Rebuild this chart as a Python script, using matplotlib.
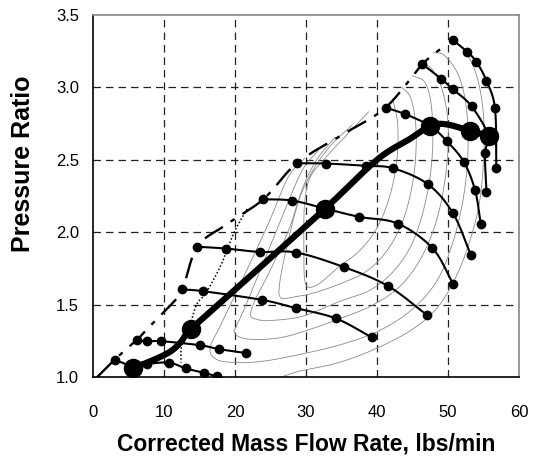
import matplotlib
matplotlib.use("Agg")
import matplotlib.pyplot as plt
import numpy as np

plt.rcParams['font.family'] = ['Liberation Sans', 'DejaVu Sans']

# ---- data ----
x_ticks = [0, 10, 20, 30, 40, 50, 60]
y_ticks = [1.0, 1.5, 2.0, 2.5, 3.0, 3.5]

speed_lines = [
    ([3.05, 5.7, 7.6, 10.7, 13.1, 15.6, 17.5], [1.12, 1.075, 1.09, 1.10, 1.06, 1.03, 1.005]),
    ([6.2, 7.65, 9.6, 15.1, 17.8, 21.6], [1.257, 1.246, 1.248, 1.22, 1.193, 1.166]),
    ([12.6, 15.5, 23.8, 28.6, 34.2, 39.3], [1.605, 1.593, 1.533, 1.476, 1.405, 1.274]),
    ([14.7, 18.8, 23.5, 28.6, 35.3, 41.5, 47.0], [1.90, 1.887, 1.864, 1.86, 1.76, 1.63, 1.43]),
    ([24.0, 28.1, 32.7, 37.5, 42.9, 47.8, 50.7], [2.228, 2.218, 2.163, 2.106, 2.06, 1.89, 1.646]),
    ([28.7, 32.8, 38.5, 42.3, 47.2, 50.7, 53.2], [2.476, 2.474, 2.458, 2.441, 2.33, 2.13, 1.845]),
    ([41.2, 44.0, 47.5, 49.8, 52.2, 53.8, 54.6], [2.86, 2.814, 2.733, 2.63, 2.487, 2.29, 2.06]),
    ([46.4, 49.0, 50.7, 53.3, 55.7, 55.2, 55.4], [3.16, 3.06, 2.986, 2.87, 2.665, 2.55, 2.28]),
    ([50.7, 52.7, 54.0, 55.4, 56.6, 56.8], [3.326, 3.244, 3.175, 3.045, 2.855, 2.446]),
]

op_x = [5.7, 7.65, 10.7, 12.35, 13.8, 19.4, 32.7, 40.0, 44.5, 47.5, 49.7, 53.1, 55.7]
op_y = [1.065, 1.10, 1.17, 1.24, 1.33, 1.576, 2.163, 2.50, 2.64, 2.733, 2.745, 2.70, 2.665]
op_pts_x = [5.7, 13.8, 32.7, 47.5, 53.1, 55.7]
op_pts_y = [1.065, 1.33, 2.163, 2.733, 2.70, 2.665]

surge_x = [0.6, 3.05, 6.2, 7.6, 11.0, 12.6, 14.7, 18.7, 24.0, 28.7, 35.0, 41.2, 46.4, 49.5]
surge_y = [1.0, 1.12, 1.257, 1.33, 1.50, 1.605, 1.90, 2.05, 2.228, 2.476, 2.67, 2.86, 3.16, 3.285]

dot_x = [21.7, 19.9, 18.0, 15.9, 14.6, 13.5, 12.5, 12.4]
dot_y = [2.16, 2.0, 1.77, 1.58, 1.50, 1.33, 1.22, 1.10]

eff_contours = [
    ([26.5, 29, 34.6, 40, 45, 48.5, 51, 53, 54.4, 55.0, 55.0, 54.2, 52.8, 51],
     [1.0, 1.04, 1.10, 1.20, 1.33, 1.48, 1.68, 1.93, 2.2, 2.5, 2.8, 3.05, 3.22, 3.32]),
    ([29.8, 27.5, 24.8, 21.5, 18.2, 16.5, 17.5, 20.5, 24, 28.5, 34.6, 40.3, 45, 48.5, 50.8, 52.2, 52.8, 52.6, 51.5, 49.5, 48],
     [2.51, 2.38, 2.07, 1.72, 1.38, 1.20, 1.12, 1.10, 1.11, 1.15, 1.22, 1.32, 1.47, 1.67, 1.95, 2.25, 2.55, 2.85, 3.08, 3.22, 3.24]),
    ([31.8, 29.5, 27, 24.5, 22, 20.3, 19.9, 21, 24, 28, 34.6, 39.5, 43.5, 46.5, 48.6, 49.8, 50.0, 49.2, 47.8, 46.5],
     [2.57, 2.43, 2.15, 1.85, 1.55, 1.36, 1.31, 1.27, 1.26, 1.29, 1.40, 1.50, 1.64, 1.85, 2.12, 2.45, 2.75, 2.98, 3.12, 3.17]),
    ([34, 31.5, 29.5, 27.6, 24.8, 22.9, 22.2, 23, 24.8, 29.5, 34.6, 39, 42.5, 45.2, 47, 47.8, 47.7, 46.8, 45],
     [2.65, 2.50, 2.30, 2.02, 1.72, 1.54, 1.43, 1.40, 1.39, 1.42, 1.52, 1.60, 1.74, 1.95, 2.25, 2.55, 2.85, 3.03, 3.08]),
    ([36.5, 33.5, 31, 29, 27.3, 26.3, 26.4, 28, 31, 34.6, 38.5, 41.5, 43.8, 45.2, 45.5, 44.8, 43.5],
     [2.74, 2.60, 2.43, 2.22, 1.90, 1.65, 1.55, 1.55, 1.58, 1.64, 1.73, 1.88, 2.10, 2.40, 2.70, 2.92, 3.0]),
    ([38.8, 35.5, 32.5, 30.6, 29.8, 29.7, 29.8, 30.4, 32, 34.6, 37.5, 40, 41.8, 42.8, 42.9, 42.2],
     [2.83, 2.66, 2.50, 2.38, 2.20, 1.90, 1.68, 1.62, 1.65, 1.76, 1.87, 2.03, 2.25, 2.5, 2.75, 2.92]),
]


def smooth(xs, ys, n=12):
    """Excel-like smoothed line through the given points (Catmull-Rom)."""
    p = np.column_stack([xs, ys]).astype(float)
    if len(p) < 3:
        return p[:, 0], p[:, 1]
    ext = np.vstack([2 * p[0] - p[1], p, 2 * p[-1] - p[-2]])
    out = []
    t = np.linspace(0, 1, n, endpoint=False)[:, None]
    for i in range(1, len(ext) - 2):
        p0, p1, p2, p3 = ext[i - 1], ext[i], ext[i + 1], ext[i + 2]
        seg = 0.5 * ((2 * p1) + (-p0 + p2) * t + (2 * p0 - 5 * p1 + 4 * p2 - p3) * t ** 2
                     + (-p0 + 3 * p1 - 3 * p2 + p3) * t ** 3)
        out.append(seg)
    out.append(p[-1][None, :])
    out = np.vstack(out)
    return out[:, 0], out[:, 1]


# ---- figure ----
fig = plt.figure(figsize=(5.43, 4.65), dpi=100)
ax = fig.add_axes([0.171, 0.189, 0.785, 0.779])
ax.set_xlim(0, 60)
ax.set_ylim(1.0, 3.5)

for xs in x_ticks[1:-1]:
    ax.axvline(xs, color='#222222', lw=0.9, dashes=(6, 4), zorder=1)
for ys in y_ticks[1:-1]:
    ax.axhline(ys, color='#222222', lw=0.9, dashes=(6, 4), zorder=1)

for cx, cy in eff_contours:
    sx, sy = smooth(cx, cy)
    ax.plot(sx, sy, color='#8a8a8a', lw=0.6, zorder=2)

ax.plot(*smooth(surge_x, surge_y), color='black', lw=1.7, dashes=(9, 4, 2, 4), zorder=3)
ax.plot(*smooth(dot_x, dot_y), color='black', lw=1.1, ls=(0, (1, 1.4)), zorder=3)

for sx, sy in speed_lines:
    ax.plot(*smooth(sx, sy), color='black', lw=1.5, zorder=4)
    ax.plot(sx, sy, 'o', color='black', ms=6, zorder=4)

ax.plot(*smooth(op_x, op_y), color='black', lw=4.5, solid_capstyle='round', zorder=5)
ax.plot(op_pts_x, op_pts_y, 'o', color='black', ms=13, zorder=6)

ax.set_xticks(x_ticks)
ax.set_yticks(y_ticks)
ax.set_yticklabels([f"{v:.1f}" for v in y_ticks])
ax.tick_params(labelsize=12, length=0)
ax.tick_params(axis='x', pad=20)
ax.tick_params(axis='y', pad=10)
for s in ['left', 'bottom']:
    ax.spines[s].set_color('black')
    ax.spines[s].set_linewidth(1.2)
for s in ['top', 'right']:
    ax.spines[s].set_color('#888888')
    ax.spines[s].set_linewidth(1.2)

ax.set_xlabel('Corrected Mass Flow Rate, lbs/min', fontsize=16.5, fontweight='bold', labelpad=9)
ax.set_ylabel('Pressure Ratio', fontsize=18, fontweight='bold')
ax.yaxis.set_label_coords(-0.135, 0.59)

fig.savefig('out.png', dpi=100)
